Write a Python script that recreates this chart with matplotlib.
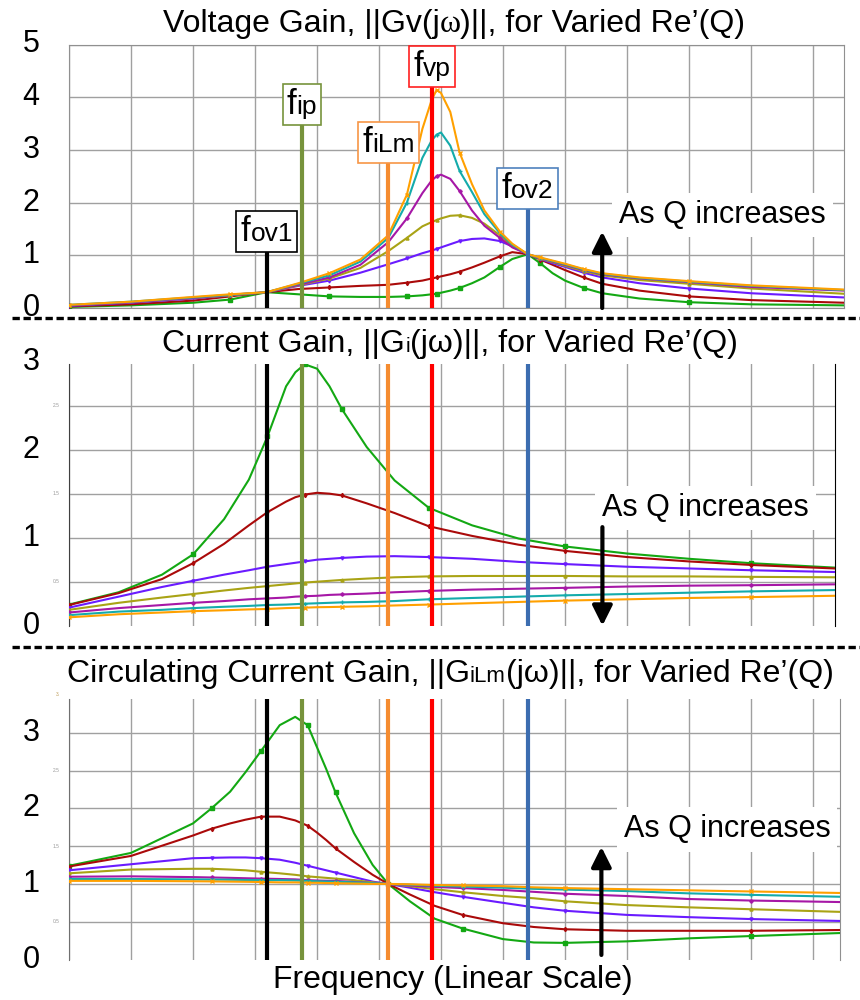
import matplotlib
matplotlib.use("Agg")
import matplotlib.pyplot as plt
import matplotlib.transforms as mtransforms
from matplotlib.lines import Line2D
from matplotlib.offsetbox import TextArea, HPacker, AnnotationBbox

plt.rcParams['font.family'] = ['Liberation Sans', 'DejaVu Sans']

# ---- data (x in grid divisions, linear frequency) ----
SERIES_COLORS = ["#13a813", "#aa0a0a", "#6a1bff", "#a9a315", "#a617a6", "#14abab", "#ffa000"]
SERIES_MARKERS = ["s", "d", "v", "^", "P", "+", "x"]

# Voltage gain
x_v = [0, 1, 2, 2.6, 3.19, 3.7, 4.2, 4.7, 5.15, 5.45, 5.7, 5.85, 5.93, 6.0, 6.15, 6.3, 6.5, 6.7,
       6.95, 7.15, 7.4, 7.6, 7.8, 8.0, 8.3, 8.6, 9.2, 10, 11, 12.5]
gv_green = [0.02, 0.05, 0.10, 0.16, 0.30, 0.26, 0.22, 0.21, 0.21, 0.22, 0.24, 0.26, 0.27, 0.29, 0.33,
            0.38, 0.47, 0.58, 0.78, 0.93, 1.02, 0.85, 0.66, 0.52, 0.38, 0.28, 0.18, 0.11, 0.07, 0.05]
gv_red = [0.03, 0.07, 0.14, 0.22, 0.30, 0.36, 0.39, 0.42, 0.44, 0.48, 0.52, 0.56, 0.58, 0.60, 0.64,
          0.69, 0.77, 0.86, 0.98, 1.06, 1.02, 0.92, 0.82, 0.72, 0.58, 0.46, 0.33, 0.22, 0.15, 0.10]
gv_blue = [0.04, 0.10, 0.18, 0.24, 0.30, 0.42, 0.52, 0.67, 0.83, 0.94, 1.04, 1.09, 1.12, 1.15, 1.21,
           1.27, 1.31, 1.32, 1.27, 1.17, 1.02, 0.93, 0.85, 0.78, 0.67, 0.58, 0.47, 0.37, 0.28, 0.20]
gv_olive = [0.05, 0.11, 0.19, 0.24, 0.30, 0.43, 0.56, 0.76, 1.08, 1.33, 1.55, 1.63, 1.67, 1.70, 1.75,
            1.76, 1.71, 1.60, 1.38, 1.18, 1.02, 0.94, 0.87, 0.80, 0.70, 0.62, 0.53, 0.46, 0.37, 0.27]
gv_magenta = [0.05, 0.11, 0.19, 0.25, 0.30, 0.44, 0.58, 0.82, 1.25, 1.70, 2.18, 2.42, 2.50, 2.53, 2.45,
              2.22, 1.85, 1.56, 1.33, 1.15, 1.02, 0.95, 0.88, 0.82, 0.72, 0.64, 0.56, 0.49, 0.40, 0.33]
gv_cyan = [0.06, 0.12, 0.20, 0.25, 0.30, 0.46, 0.62, 0.88, 1.33, 2.00, 2.85, 3.18, 3.29, 3.33, 3.08,
           2.60, 2.20, 1.78, 1.42, 1.20, 1.02, 0.95, 0.89, 0.83, 0.73, 0.65, 0.57, 0.50, 0.42, 0.34]
gv_orange = [0.06, 0.12, 0.21, 0.26, 0.30, 0.47, 0.66, 0.92, 1.38, 2.15, 3.40, 3.95, 4.14, 4.08, 3.72,
             2.95, 2.35, 1.85, 1.45, 1.22, 1.02, 0.96, 0.90, 0.84, 0.74, 0.66, 0.58, 0.51, 0.43, 0.35]

# Current gain
x_i = [0, 0.8, 1.5, 2.0, 2.5, 2.9, 3.2, 3.5, 3.65, 3.8, 4.0, 4.2, 4.4, 4.8, 5.25, 5.8, 6.5, 7.25,
       8.0, 9.0, 10.0, 11.0, 12.35]
gi_green = [0.24, 0.38, 0.58, 0.81, 1.21, 1.66, 2.15, 2.72, 2.88, 2.97, 2.92, 2.72, 2.46, 2.03, 1.65,
            1.34, 1.14, 0.99, 0.90, 0.82, 0.76, 0.71, 0.66]
gi_red = [0.235, 0.37, 0.53, 0.71, 0.93, 1.14, 1.29, 1.41, 1.46, 1.49, 1.51, 1.50, 1.48, 1.39, 1.28,
          1.13, 1.02, 0.92, 0.85, 0.78, 0.73, 0.69, 0.65]
gi_blue = [0.205, 0.33, 0.44, 0.51, 0.58, 0.63, 0.67, 0.70, 0.715, 0.73, 0.75, 0.76, 0.77, 0.785,
           0.79, 0.78, 0.76, 0.725, 0.70, 0.67, 0.65, 0.63, 0.61]
gi_olive = [0.18, 0.26, 0.32, 0.36, 0.40, 0.43, 0.45, 0.47, 0.48, 0.49, 0.50, 0.51, 0.52, 0.535, 0.55,
            0.56, 0.565, 0.565, 0.565, 0.56, 0.56, 0.555, 0.55]
gi_magenta = [0.15, 0.20, 0.235, 0.26, 0.28, 0.30, 0.31, 0.32, 0.33, 0.335, 0.34, 0.35, 0.355, 0.365,
              0.38, 0.395, 0.41, 0.42, 0.43, 0.445, 0.455, 0.46, 0.47]
gi_cyan = [0.12, 0.16, 0.18, 0.20, 0.215, 0.225, 0.235, 0.24, 0.245, 0.25, 0.255, 0.26, 0.265, 0.27,
           0.28, 0.30, 0.315, 0.33, 0.345, 0.36, 0.375, 0.39, 0.405]
gi_orange = [0.095, 0.13, 0.15, 0.165, 0.175, 0.185, 0.19, 0.20, 0.203, 0.205, 0.21, 0.212, 0.215,
             0.22, 0.23, 0.24, 0.255, 0.27, 0.285, 0.30, 0.315, 0.325, 0.34]

# Circulating current gain
x_l = [0, 1.0, 2.0, 2.3, 2.6, 2.85, 3.1, 3.4, 3.65, 3.85, 4.0, 4.15, 4.3, 4.6, 4.9, 5.15, 5.5, 5.9,
       6.35, 7.0, 7.5, 8.0, 9.0, 10.0, 11.0, 12.44]
gl_green = [1.24, 1.41, 1.80, 2.00, 2.22, 2.48, 2.76, 3.10, 3.21, 3.10, 2.81, 2.52, 2.21, 1.67, 1.25,
            1.0, 0.77, 0.54, 0.41, 0.27, 0.225, 0.22, 0.24, 0.28, 0.31, 0.35]
gl_red = [1.23, 1.37, 1.64, 1.73, 1.80, 1.85, 1.89, 1.89, 1.84, 1.77, 1.68, 1.58, 1.47, 1.29, 1.12,
          1.0, 0.86, 0.71, 0.59, 0.48, 0.43, 0.40, 0.38, 0.38, 0.38, 0.39]
gl_blue = [1.18, 1.26, 1.34, 1.345, 1.35, 1.35, 1.34, 1.32, 1.28, 1.24, 1.21, 1.18, 1.15, 1.09, 1.03,
           1.0, 0.95, 0.89, 0.83, 0.75, 0.69, 0.645, 0.59, 0.56, 0.535, 0.51]
gl_olive = [1.14, 1.19, 1.20, 1.20, 1.19, 1.18, 1.16, 1.14, 1.12, 1.10, 1.09, 1.08, 1.07, 1.05, 1.02,
            1.0, 0.97, 0.93, 0.89, 0.84, 0.81, 0.77, 0.72, 0.69, 0.665, 0.63]
gl_magenta = [1.095, 1.10, 1.09, 1.085, 1.08, 1.075, 1.07, 1.065, 1.06, 1.05, 1.045, 1.042, 1.04,
              1.025, 1.01, 1.0, 0.98, 0.96, 0.945, 0.92, 0.895, 0.87, 0.84, 0.80, 0.78, 0.76]
gl_cyan = [1.065, 1.065, 1.06, 1.058, 1.055, 1.052, 1.05, 1.05, 1.045, 1.04, 1.035, 1.032, 1.03, 1.02,
           1.01, 1.0, 0.99, 0.975, 0.965, 0.95, 0.935, 0.925, 0.905, 0.875, 0.855, 0.83]
gl_orange = [1.04, 1.04, 1.035, 1.033, 1.03, 1.028, 1.025, 1.02, 1.02, 1.015, 1.015, 1.012, 1.01,
             1.005, 1.0, 1.0, 0.995, 0.985, 0.98, 0.97, 0.955, 0.945, 0.93, 0.915, 0.90, 0.88]

# characteristic frequencies
mark_subs = ["ov1", "ip", "iLm", "vp", "ov2"]
mark_x = [3.19, 3.76, 5.15, 5.86, 7.40]
mark_top = [1.14, 3.55, 2.83, 4.27, 1.95]   # line heights in the voltage gain panel
mark_colors = ["#000000", "#77933c", "#f58c30", "#ff0000", "#3c6db0"]
mark_edges = ["#000000", "#77933c", "#f79646", "#ff2020", "#4f81bd"]

FS = 22
TFS = 23
GRID = "#a0a0a0"

fig = plt.figure(figsize=(8.6, 10), dpi=100)
W, H = 860.0, 1000.0

ax1 = fig.add_axes([69 / W, 1 - 308 / H, 775 / W, 263.5 / H])
ax2 = fig.add_axes([69 / W, 1 - 625.7 / H, 766 / W, 261.4 / H])
ax3 = fig.add_axes([69 / W, 1 - 959.5 / H, 771 / W, 260.8 / H])

ax1.set_xlim(0, 12.5)
ax1.set_ylim(0, 5)
ax2.set_xlim(0, 12.35)
ax2.set_ylim(0, 2.97)
ax3.set_xlim(0, 12.44)
ax3.set_ylim(0, 3.45)

ax1.set_yticks(range(6))
ax2.set_yticks([0.5, 1, 1.5, 2, 2.5])
ax3.set_yticks([0.5, 1, 1.5, 2, 2.5, 3])
for ax in (ax1, ax2, ax3):
    ax.set_xticks(range(13))
    ax.tick_params(length=0, labelleft=False, labelbottom=False)
    ax.grid(True, color=GRID, lw=1.0)
    ax.set_axisbelow(True)
    for s in ax.spines.values():
        s.set_color("#909090")
for ax in (ax2, ax3):
    ax.spines["top"].set_visible(False)
    ax.spines["bottom"].set_visible(False)
ax2.spines["right"].set_color("black")
ax2.spines["left"].set_color("#404040")
ax3.spines["left"].set_color("#707070")

panels = [
    (ax1, x_v, [gv_green, gv_red, gv_blue, gv_olive, gv_magenta, gv_cyan, gv_orange]),
    (ax2, x_i, [gi_green, gi_red, gi_blue, gi_olive, gi_magenta, gi_cyan, gi_orange]),
    (ax3, x_l, [gl_green, gl_red, gl_blue, gl_olive, gl_magenta, gl_cyan, gl_orange]),
]
for ax, xs, ys in panels:
    for y, c, m in zip(ys, SERIES_COLORS, SERIES_MARKERS):
        ax.plot(xs, y, color=c, lw=1.5, marker=m, ms=2.2, markevery=3, zorder=3)

# vertical marker lines
for xm, top, c in zip(mark_x, mark_top, mark_colors):
    ax1.plot([xm, xm], [0, top], color=c, lw=3, solid_capstyle="butt", zorder=4)
    for ax in (ax2, ax3):
        ax.axvline(xm, color=c, lw=3, zorder=4)


def rich(parts):
    boxes = [TextArea(s, textprops=dict(fontsize=fs, family=fam, color="black"))
             for s, fs, fam in parts]
    return HPacker(children=boxes, align="baseline", pad=0, sep=0)


SANS = ["Liberation Sans", "DejaVu Sans"]
SERIF = ["Liberation Serif", "DejaVu Serif"]

# boxed frequency labels
for sub, xm, top, ec in zip(mark_subs, mark_x, mark_top, mark_edges):
    pk = rich([("f", 25, SANS), (sub, 19, SANS)])
    ab = AnnotationBbox(pk, (xm, top), xycoords="data", box_alignment=(0.5, 0), pad=0.2,
                        frameon=True, bboxprops=dict(edgecolor=ec, facecolor="white", lw=1.2,
                                                     boxstyle="square"), zorder=6,
                        annotation_clip=False)
    ax1.add_artist(ab)

# titles
titles = [
    ([("Voltage Gain, ||Gv(j", TFS, SANS), ("\u03c9", TFS, SERIF), (")||, for Varied Re\u2019(Q)", TFS, SANS)],
     454, 24),
    ([("Current Gain, ||G", TFS, SANS), ("i", 15, SANS), ("(j\u03c9)||, for Varied Re\u2019(Q)", TFS, SANS)],
     450, 344),
    ([("Circulating Current Gain, ||G", TFS, SANS), ("iLm", 16, SANS),
      ("(j\u03c9)||, for Varied Re\u2019(Q)", TFS, SANS)],
     450, 674),
]
for parts, px, py in titles:
    ab = AnnotationBbox(rich(parts), (px / W, 1 - py / H), xycoords="figure fraction",
                        box_alignment=(0.5, 0.5), frameon=False, pad=0)
    fig.add_artist(ab)

# big y tick labels
for ax, vals in ((ax1, [0, 1, 2, 3, 4, 5]), (ax2, [0, 1, 2, 3]), (ax3, [0, 1, 2, 3])):
    tr = mtransforms.blended_transform_factory(ax.transAxes, ax.transData)
    x0 = (31 - 69) / (ax.get_position().width * W)
    for v in vals:
        ax.text(x0, v, str(v), transform=tr, ha="center", va="center", fontsize=FS, clip_on=False)

# faint leftover tick labels
for ax, vals in ((ax2, [0.5, 1.5, 2.5]), (ax3, [0.5, 1.5, 2.5])):
    tr = mtransforms.blended_transform_factory(ax.transAxes, ax.transData)
    for v in vals:
        ax.text(-0.012, v, str(v), transform=tr, ha="right", va="center", fontsize=3.5,
                color="#999999", clip_on=False)
ax3.text(-0.012, 3.5, "3.", transform=mtransforms.blended_transform_factory(ax3.transAxes, ax3.transData),
         ha="right", va="center", fontsize=3.5, color="#c0a060", clip_on=False)

# "As Q increases" notes with arrows
notes = [(ax1, 8.87, 1.76, 8.6, 0.0, 1.45), (ax2, 8.6, 1.34, 8.6, 1.12, 0.0), (ax3, 8.95, 1.72, 8.59, 0.06, 1.49)]
for ax, tx, ty, axx, y0, y1 in notes:
    ax.text(tx, ty, "As Q increases", fontsize=FS, ha="left", va="center", zorder=5,
            bbox=dict(facecolor="white", edgecolor="none", pad=5))
    ax.annotate("", xy=(axx, y1), xytext=(axx, y0),
                arrowprops=dict(arrowstyle="-|>,head_length=1.2,head_width=0.6", lw=3, color="black",
                                shrinkA=0, shrinkB=0), zorder=6, annotation_clip=False)

# dashed separators
for yy in (318, 647):
    fig.add_artist(Line2D([12 / W, 1.0], [1 - yy / H] * 2, transform=fig.transFigure, color="black",
                          lw=2.4, dashes=(2.2, 1.1)))

fig.text(453 / W, 1 - 980 / H, "Frequency (Linear Scale)", ha="center", va="center", fontsize=TFS)

fig.savefig("out.png", dpi=100, facecolor="white")
